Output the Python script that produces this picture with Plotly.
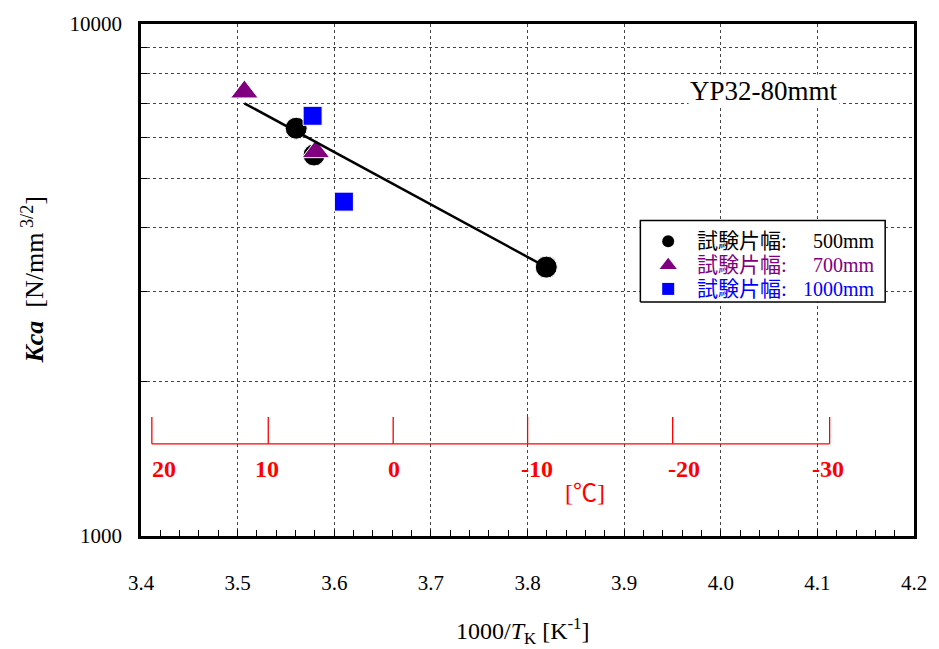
import plotly.graph_objects as go

# ---------------- data ----------------
circle_x = [3.5606, 3.5791, 3.8194]          # 試験片幅 500mm
circle_y = [6258, 5548, 3351]
tri_x = [3.507, 3.581]                        # 試験片幅 700mm
tri_y = [7366, 5632]
sq_x = [3.5776, 3.610]                        # 試験片幅 1000mm
sq_y = [6618, 4498]
fit_x = [3.507, 3.8194]                       # regression line ends
fit_y = [7000, 3351]
temps_c = [20, 10, 0, -10, -20, -30]          # secondary temperature scale
x_ticks = [3.4, 3.5, 3.6, 3.7, 3.8, 3.9, 4.0, 4.1, 4.2]
y_major = [1000, 10000]
y_minor = [2000, 3000, 4000, 5000, 6000, 7000, 8000, 9000]
legend_labels = ["500mm", "700mm", "1000mm"]

SERIF = "Liberation Serif, Times New Roman, Noto Sans CJK JP"
BLACK, PURPLE, BLUE, RED = "#000000", "#800080", "#0000FF", "#FF0000"

fig = go.Figure()

# data markers
fig.add_trace(go.Scatter(x=circle_x, y=circle_y, mode="markers", showlegend=False,
                         marker=dict(symbol="circle", size=22, color=BLACK,
                                     line=dict(color="white", width=1))))
fig.add_trace(go.Scatter(x=tri_x, y=tri_y, mode="markers", showlegend=False,
                         marker=dict(symbol="triangle-up", size=24, color=PURPLE,
                                     line=dict(color="white", width=1))))
fig.add_trace(go.Scatter(x=sq_x, y=sq_y, mode="markers", showlegend=False,
                         marker=dict(symbol="square", size=19, color=BLUE,
                                     line=dict(color="white", width=1))))
fig.add_trace(go.Scatter(x=fit_x, y=fit_y, mode="lines", showlegend=False,
                         line=dict(color=BLACK, width=2.5)))

# temperature scale (red)
SCALE_Y_BASE, SCALE_Y_TOP = 1514, 1708
sx, sy = [], []
for t in temps_c:
    xv = 1000.0 / (t + 273.15)
    sx += [xv, xv, None]
    sy += [SCALE_Y_TOP, SCALE_Y_BASE, None]
x_first = 1000.0 / (temps_c[0] + 273.15)
x_last = 1000.0 / (temps_c[-1] + 273.15)
sx += [x_first, x_last]
sy += [SCALE_Y_BASE, SCALE_Y_BASE]
fig.add_trace(go.Scatter(x=sx, y=sy, mode="lines", showlegend=False,
                         line=dict(color=RED, width=1.3), hoverinfo="skip"))

annotations = []
label_shift = [12, -1, 1, 9, 11, -2]
for t, sh in zip(temps_c, label_shift):
    annotations.append(dict(x=1000.0 / (t + 273.15), xref="x", y=0.1318, yref="paper",
                            text=str(t), showarrow=False, xshift=sh,
                            font=dict(family=SERIF, size=24, color=RED, weight="bold"),
                            xanchor="center", yanchor="middle"))
annotations.append(dict(x=0.574, xref="paper", y=0.0833, yref="paper", text="[℃]",
                        showarrow=False, font=dict(family=SERIF, size=24, color=RED),
                        xanchor="center", yanchor="middle"))

# sample label
annotations.append(dict(x=0.8057, xref="paper", y=0.870, yref="paper", text="YP32-80mmt",
                        showarrow=False, bgcolor="white",
                        font=dict(family=SERIF, size=27, color=BLACK),
                        xanchor="center", yanchor="middle"))

# axis titles
annotations.append(dict(x=0.494, xref="paper", y=-0.186, yref="paper",
                        text="1000/<i>T</i><sub>K</sub> [K<sup>-1</sup>]", showarrow=False,
                        font=dict(family=SERIF, size=24, color=BLACK),
                        xanchor="center", yanchor="middle"))
annotations.append(dict(x=-0.1403, xref="paper", y=0.5, yref="paper",
                        text="<b><i>Kca</i></b>  [N/mm<sup> 3/2</sup>]", showarrow=False,
                        textangle=-90, font=dict(family=SERIF, size=26, color=BLACK),
                        xanchor="center", yanchor="middle"))

# custom legend (drawn on an overlay axis spanning the plot area, 0..1)
LX0, LX1, LY0, LY1 = 0.646, 0.9627, 0.457, 0.616
fig.add_trace(go.Scatter(x=[LX0, LX1, LX1, LX0, LX0], y=[LY0, LY0, LY1, LY1, LY0],
                         xaxis="x2", yaxis="y2", mode="lines", fill="toself",
                         fillcolor="white", line=dict(color=BLACK, width=1.5),
                         showlegend=False, hoverinfo="skip"))
leg_rows_y = [0.5756, 0.529, 0.4826]
leg_colors = [BLACK, PURPLE, BLUE]
leg_symbols = ["circle", "triangle-up", "square"]
leg_sizes = [12, 15, 12]
for i in range(3):
    fig.add_trace(go.Scatter(x=[0.682], y=[leg_rows_y[i]], xaxis="x2", yaxis="y2",
                             mode="markers", showlegend=False, hoverinfo="skip",
                             marker=dict(symbol=leg_symbols[i], size=leg_sizes[i],
                                         color=leg_colors[i])))
    annotations.append(dict(x=0.7168, xref="paper", y=leg_rows_y[i], yref="paper",
                            text="試験片幅:", showarrow=False,
                            font=dict(family=SERIF, size=21, color=leg_colors[i]),
                            xanchor="left", yanchor="middle"))
    annotations.append(dict(x=0.952, xref="paper", y=leg_rows_y[i], yref="paper",
                            text=legend_labels[i], showarrow=False,
                            font=dict(family=SERIF, size=20, color=leg_colors[i]),
                            xanchor="right", yanchor="middle"))

GRID = dict(showgrid=True, gridcolor="#444444", gridwidth=1, griddash="3px,3px")
HIDDEN = dict(range=[0, 1], visible=False, fixedrange=True, showgrid=False,
              showticklabels=False, tickvals=[], zeroline=False)

fig.update_layout(
    width=939, height=649,
    margin=dict(l=141, r=21, t=20, b=113),
    paper_bgcolor="white", plot_bgcolor="white",
    font=dict(family=SERIF, color=BLACK),
    xaxis=dict(range=[3.4, 4.2], tickvals=x_ticks, ticktext=[f"{v:.1f}" for v in x_ticks],
               ticks="inside", ticklen=6, tickwidth=1.2, tickcolor=BLACK,
               minor=dict(dtick=0.02, tick0=3.4, ticks="inside", ticklen=6,
                          tickcolor=BLACK, showgrid=False),
               showline=True, linecolor=BLACK, linewidth=2.5, mirror=True,
               tickfont=dict(family=SERIF, size=21), ticklabelstandoff=26,
               zeroline=False, **GRID),
    yaxis=dict(type="log", range=[3, 4], tickvals=y_major,
               ticktext=[str(v) for v in y_major],
               ticks="inside", ticklen=6, tickwidth=1.2, tickcolor=BLACK,
               minor=dict(tickvals=y_minor, ticks="inside", ticklen=6, tickcolor=BLACK,
                          showgrid=True, gridcolor="#444444", gridwidth=1,
                          griddash="3px,3px"),
               showline=True, linecolor=BLACK, linewidth=2.5, mirror=True,
               tickfont=dict(family=SERIF, size=21), ticklabelstandoff=12,
               zeroline=False, **GRID),
    xaxis2=dict(overlaying="x", **HIDDEN),
    yaxis2=dict(overlaying="y", **HIDDEN),
    annotations=annotations,
    showlegend=False,
)

fig.write_html("out.html")
